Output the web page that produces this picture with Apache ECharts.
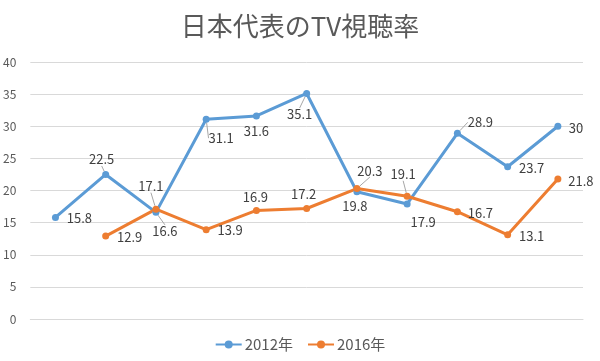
<!DOCTYPE html>
<html><head><meta charset="utf-8">
<script src="https://cdn.jsdelivr.net/npm/echarts@6/dist/echarts.min.js"></script>
</head><body style="margin:0">
<div id="c" style="width:600px;height:361px"></div>
<script>
const categories = ['1','2','3','4','5','6','7','8','9','10','11'];
const series2012 = [15.8, 22.5, 16.6, 31.1, 31.6, 35.1, 19.8, 17.9, 28.9, 23.7, 30];
const series2016 = [null, 12.9, 17.1, 13.9, 16.9, 17.2, 20.3, 19.1, 16.7, 13.1, 21.8];
const yTicks = [0, 5, 10, 15, 20, 25, 30, 35, 40];

// label offsets (label centre relative to point) and leader-line flags, layout only
const off2012 = [[24,1],[-4,-15],[9,19],[15,19],[0,15],[-7,21],[-2,14],[16,18],[23,-11],[24,1],[18,2]];
const off2016 = [null,[24,1],[-5,-23],[24,0],[-1,-13],[-3,-14],[13,-18],[-4,-22],[23,1],[24,1],[23,2]];
const lead2012 = [0,1,1,1,0,1,0,0,1,0,0];
const lead2016 = [0,0,1,0,0,0,1,1,0,0,0];

function build(vals, offs, leads) {
  return vals.map((v, i) => v == null ? null : {
    value: v,
    label: { position: 'inside', align: 'center', verticalAlign: 'middle', offset: offs[i] },
    labelLine: { show: !!leads[i], length2: 0, lineStyle: { color: '#a6a6a6', width: 1 } }
  });
}

const chart = echarts.init(document.getElementById('c'));
const labelStyle = { show: true, color: '#404040', fontSize: 13, fontFamily: 'Noto Sans CJK JP' };
chart.setOption({
  animation: false,
  title: {
    text: '日本代表のTV視聴率', left: 'center', top: 8,
    textStyle: { fontSize: 26, fontWeight: 'normal', color: '#595959', fontFamily: 'Noto Sans CJK JP' }
  },
  legend: {
    bottom: 4, left: 'center', itemWidth: 26, itemHeight: 10, itemGap: 14,
    textStyle: { fontSize: 15, color: '#595959', fontFamily: 'Noto Sans CJK JP', padding: [0,0,0,-2] },
    data: ['2012年', '2016年']
  },
  grid: { left: 29, right: 17, top: 62, bottom: 42, containLabel: false },
  xAxis: {
    type: 'category', data: categories, boundaryGap: true,
    axisLine: { show: true, lineStyle: { color: '#d9d9d9' } },
    axisTick: { show: false }, axisLabel: { show: false }
  },
  yAxis: {
    type: 'value', min: yTicks[0], max: yTicks[yTicks.length-1], interval: 5,
    axisLine: { show: false }, axisTick: { show: false },
    axisLabel: { color: '#595959', fontSize: 12, margin: 14, fontFamily: 'Noto Sans CJK JP' },
    splitLine: { lineStyle: { color: '#d9d9d9' } }
  },
  series: [
    { name: '2012年', type: 'line', data: build(series2012, off2012, lead2012), symbol: 'circle', symbolSize: 7,
      itemStyle: { color: '#5B9BD5' }, lineStyle: { width: 3, color: '#5B9BD5' }, label: labelStyle },
    { name: '2016年', type: 'line', data: build(series2016, off2016, lead2016), symbol: 'circle', symbolSize: 7,
      itemStyle: { color: '#ED7D31' }, lineStyle: { width: 3, color: '#ED7D31' }, label: labelStyle }
  ]
});
</script>
</body></html>
